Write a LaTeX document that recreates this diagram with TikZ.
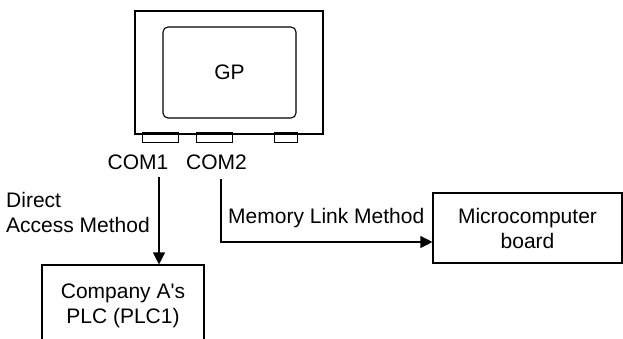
\documentclass[tikz,border=0pt]{standalone}
\usepackage{fontspec}
\setmainfont{Liberation Sans}
\usetikzlibrary{arrows.meta}
\begin{document}
\begin{tikzpicture}[x=1pt, y=-1pt, font=\fontsize{21}{25}\selectfont,
      box/.style = {
        rectangle, draw=black, line width=1.1pt, align=center,
        inner sep=0pt },
      screen/.style = {
        rectangle, draw=black, line width=1.1pt, rounded corners=5pt,
        minimum width=133pt, minimum height=91pt },
      port/.style = {
        rectangle, draw=black, line width=1pt, minimum height=10pt,
        inner sep=0pt },
      label/.style = { inner sep=0pt, align=left },
      line/.style = { draw, line width=1.1pt,
        -{Triangle[length=12pt, width=12pt]} }]
    \useasboundingbox (0,0) rectangle (623,339);
    \node [box, minimum width=188pt, minimum height=123pt] (gp) at (229, 72.5) {};
    \node [screen] (lcd) at (229.5, 72.5) {GP};
    \node [port, minimum width=36pt] (port1) at (160, 138) {};
    \node [port, minimum width=36pt] (port2) at (214, 138) {};
    \node [port, minimum width=23pt] (port3) at (285.5, 138) {};
    \node [label] (com1) at (138, 162) {COM1};
    \node [label] (com2) at (216.5, 162) {COM2};
    \node [box, minimum width=162pt, minimum height=81pt] (plc) at (123, 305.5)
      {Company A\textquotesingle s\\PLC (PLC1)};
    \node [box, minimum width=189pt, minimum height=70pt] (micro) at (527.5, 228)
      {Microcomputer\\board};
    \node [label, anchor=west] (direct) at (6, 212.5) {Direct\\Access Method};
    \node [label, anchor=west] (memlink) at (228, 218) {Memory Link Method};
    \coordinate (c1) at (159, 177);
    \coordinate (c2) at (221, 179);
    \coordinate (c3) at (221, 242);
    % connect the ports to the devices
    \draw[line] (c1) -- (c1 |- plc.north);
    \draw[line] (c2) -- (c3) -- (c3 -| micro.west);
  \end{tikzpicture}
\end{document}
